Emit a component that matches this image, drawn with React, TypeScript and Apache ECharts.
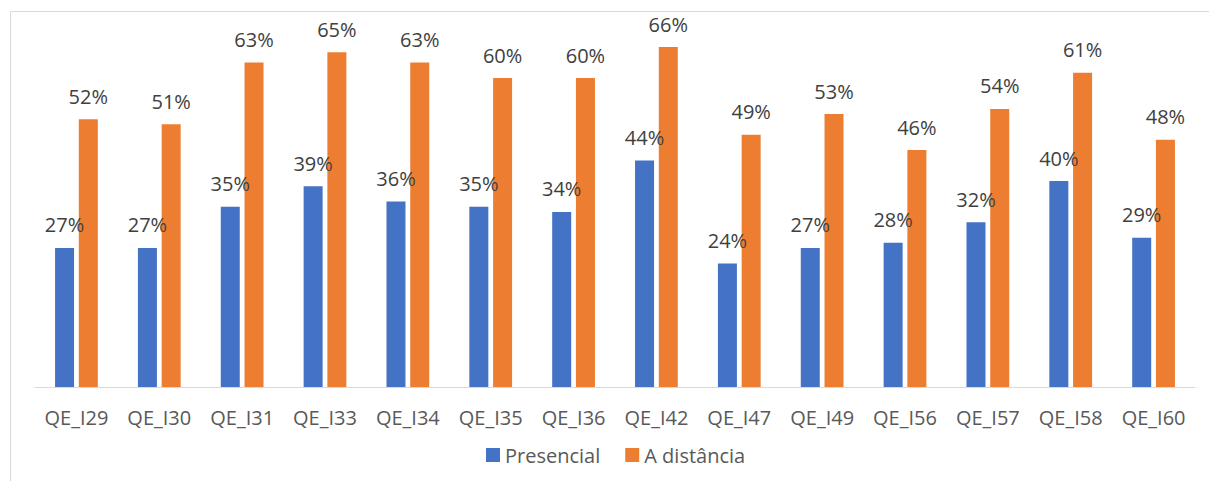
import React, { useEffect, useRef } from "react";
import * as echarts from "echarts";

const categories = [
  "QE_I29", "QE_I30", "QE_I31", "QE_I33", "QE_I34", "QE_I35", "QE_I36",
  "QE_I42", "QE_I47", "QE_I49", "QE_I56", "QE_I57", "QE_I58", "QE_I60",
];
const presencial = [27, 27, 35, 39, 36, 35, 34, 44, 24, 27, 28, 32, 40, 29];
const aDistancia = [52, 51, 63, 65, 63, 60, 60, 66, 49, 53, 46, 54, 61, 48];
const seriesNames = ["Presencial", "A distância"];

const FONT = "'Open Sans', 'DejaVu Sans', sans-serif";

export default function App() {
  const ref = useRef<HTMLDivElement>(null);

  useEffect(() => {
    if (!ref.current) return;
    const chart = echarts.init(ref.current, undefined, { renderer: "svg" });

    const valueLabel = {
      show: true,
      position: "top" as const,
      distance: 13,
      formatter: "{c}%",
      color: "#404040",
      fontSize: 20,
      fontFamily: FONT,
    };

    chart.setOption({
      animation: false,
      backgroundColor: "#ffffff",
      graphic: [
        {
          type: "rect",
          shape: { x: 10.5, y: 11.5, width: 1400, height: 600 },
          style: { fill: "none", stroke: "#d9d9d9", lineWidth: 1 },
          silent: true,
          z: -10,
        },
      ],
      grid: { left: 35, right: 14, top: 26.5, bottom: 94 },
      legend: {
        data: seriesNames,
        left: 481,
        top: 440,
        itemWidth: 14,
        itemHeight: 14,
        itemGap: 25,
        icon: "rect",
        textStyle: { color: "#595959", fontSize: 20, fontFamily: FONT },
      },
      xAxis: {
        type: "category",
        data: categories,
        axisLine: { lineStyle: { color: "#d9d9d9", width: 1 } },
        axisTick: { show: false },
        axisLabel: {
          color: "#595959",
          fontSize: 20,
          fontFamily: FONT,
          margin: 20,
          interval: 0,
        },
      },
      yAxis: {
        type: "value",
        min: 0,
        max: 70,
        show: false,
        splitLine: { show: false },
      },
      series: [
        {
          name: seriesNames[0],
          type: "bar",
          data: presencial,
          barWidth: 19,
          barGap: "25%",
          itemStyle: { color: "#4472C4" },
          label: valueLabel,
        },
        {
          name: seriesNames[1],
          type: "bar",
          data: aDistancia,
          barWidth: 19,
          itemStyle: { color: "#ED7D31" },
          label: valueLabel,
        },
      ],
    });

    return () => chart.dispose();
  }, []);

  return (
    <div
      style={{ position: "fixed", left: 0, top: 0, width: 1209, height: 481, background: "#fff" }}
    >
      <div ref={ref} style={{ width: 1209, height: 481 }} />
    </div>
  );
}
